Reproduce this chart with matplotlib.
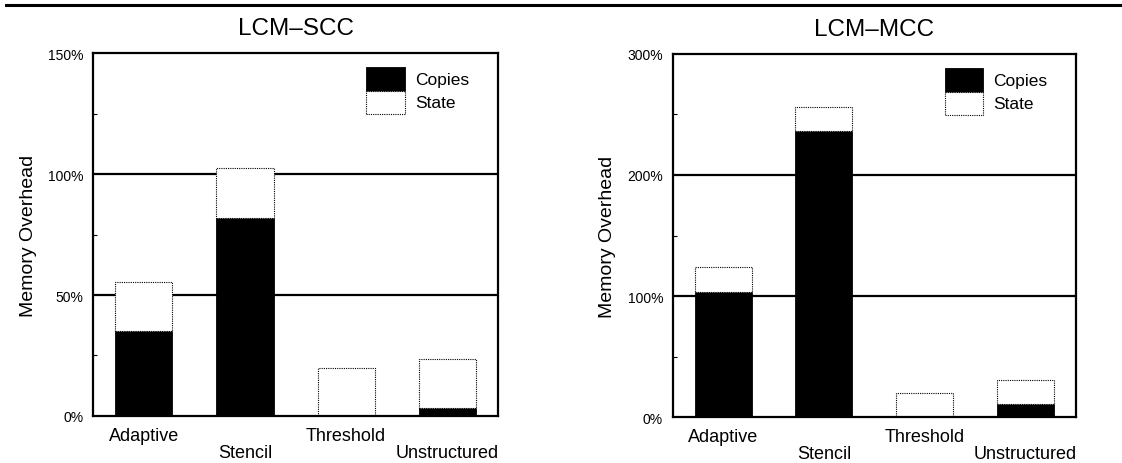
import numpy as np
import matplotlib
matplotlib.use("Agg")
from matplotlib import pyplot as plt
from matplotlib.patches import Rectangle
from matplotlib.lines import Line2D

plt.rcParams['font.family'] = ['Liberation Sans', 'DejaVu Sans']

categories = ['Adaptive', 'Stencil', 'Threshold', 'Unstructured']

# values in percent
scc_copies = [35, 82, 0, 3.5]
scc_state = [20.5, 20.5, 20, 20]
mcc_copies = [103, 236, 0, 11]
mcc_state = [21, 20, 19.5, 19.5]

panels = [
    ('LCM\u2013SCC', scc_copies, scc_state, 150, [0, 50, 100, 150], [25, 75, 125]),
    ('LCM\u2013MCC', mcc_copies, mcc_state, 300, [0, 100, 200, 300], [50, 150, 250]),
]
axes_pos = [
    [0.0829, 0.1013, 0.3610, 0.7823],
    [0.5996, 0.0991, 0.3594, 0.7824],
]

fig = plt.figure(figsize=(11.22, 4.64), dpi=100)
fig.add_artist(Line2D([0.005, 1.0], [0.988, 0.988], color='black', lw=2.2,
                      transform=fig.transFigure))

x = np.arange(len(categories))
width = 0.565
state_ls = (0, (1, 1))

for (title, copies, state, ymax, yt, yminor), pos in zip(panels, axes_pos):
    ax = fig.add_axes(pos)
    for y in yt[1:-1]:
        ax.axhline(y, color='black', lw=1.6, zorder=1)
    ax.bar(x, copies, width, color='black', edgecolor='black', lw=0.6, zorder=2)
    ax.bar(x, state, width, bottom=copies, color='white', edgecolor='black',
           lw=0.8, linestyle=state_ls, zorder=2)
    ax.set_xlim(-0.5, 3.5)
    ax.set_ylim(0, ymax)
    ax.set_yticks(yt)
    ax.set_yticklabels(['%d%%' % v for v in yt], fontsize=10)
    ax.set_yticks(yminor, minor=True)
    ax.tick_params(axis='y', which='major', length=0, pad=7)
    ax.tick_params(axis='y', which='minor', direction='in', length=3, width=0.8)
    ax.set_xticks(x)
    ax.set_xticklabels([c if i % 2 == 0 else '\n' + c for i, c in enumerate(categories)],
                       fontsize=13, linespacing=1.0)
    ax.tick_params(axis='x', length=0, pad=8)
    for sp in ax.spines.values():
        sp.set_linewidth(1.6)
    ax.set_ylabel('Memory Overhead', fontsize=14, labelpad=8)
    ax.set_title(title, fontsize=17.5, pad=14)

    # legend: one split box, black on top, white below
    ax.add_patch(Rectangle((0.674, 0.895), 0.096, 0.066, transform=ax.transAxes,
                           facecolor='black', edgecolor='black', lw=0.6, zorder=3))
    ax.add_patch(Rectangle((0.674, 0.832), 0.096, 0.063, transform=ax.transAxes,
                           facecolor='white', edgecolor='black', lw=0.8,
                           linestyle=state_ls, zorder=3))
    ax.text(0.795, 0.928, 'Copies', transform=ax.transAxes, fontsize=12.5,
            va='center', ha='left')
    ax.text(0.795, 0.864, 'State', transform=ax.transAxes, fontsize=12.5,
            va='center', ha='left')

fig.savefig('out.png', dpi=100)
